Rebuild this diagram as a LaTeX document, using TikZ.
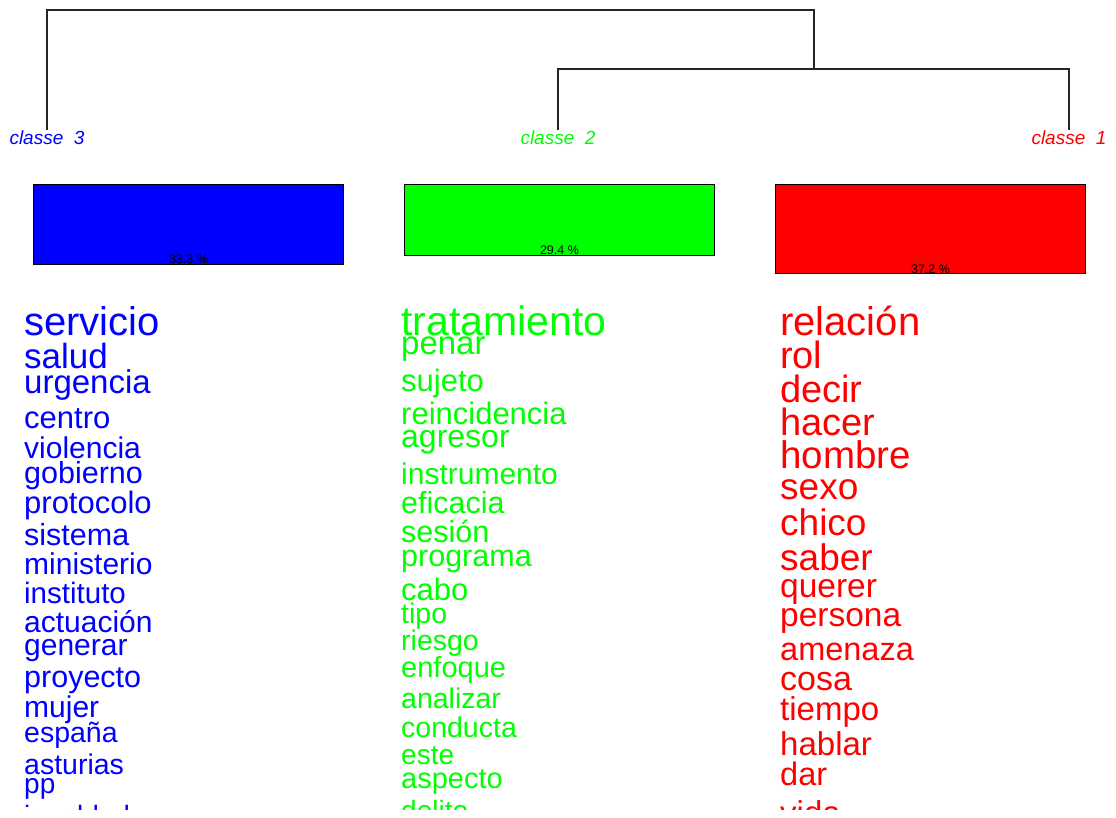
\documentclass[tikz,border=0pt]{standalone}
\usepackage{fontspec}
\setmainfont{Liberation Sans}
\usetikzlibrary{positioning}

\begin{document}
\begin{tikzpicture}[x=1pt,y=-1pt,
	tree/.style={line width=1.1pt,color=black!85},
	classe/.style={font=\fontsize{19}{19}\selectfont\itshape,inner sep=0pt,anchor=base},
	bar/.style={draw=black,line width=1pt,anchor=north west,minimum width=310pt,inner sep=0pt},
	pct/.style={font=\fontsize{12.5}{12.5}\selectfont,inner sep=0pt,anchor=base,text=black},
	word/.style={inner sep=0pt,anchor=base west}]

\useasboundingbox (0,0) rectangle (1116,817);

\def\h{2.4}

% class labels and tree
\node[classe,text=blue] (k3) at (47,144) {classe\ \ 3};
\node[classe,text=green] (k2) at (558,144) {classe\ \ 2};
\node[classe,text=red] (k1) at (1069,144) {classe\ \ 1};

\coordinate (m21) at (814,69);
\coordinate (top) at (431,10);
\draw[tree] (k2.north) |- (m21) -| (k1.north);
\draw[tree] (k3.north) |- (top) -| (m21);

% bars
\foreach \k/\x/\p/\c in {3/33/33.3/blue,2/404/29.4/green,1/775/37.2/red}{
	\node[bar,fill=\c,minimum height=\p*\h] (b\k) at (\x,184) {};
	\node[pct] (p\k) at ([yshift=1pt]b\k.south) {\p\ \%};
}

% words
\begin{scope}
\clip (0,0) rectangle (1116,809);
\foreach[count=\i] \w/\f/\y in {servicio/40/335,salud/35/368,urgencia/33/393,centro/31/428,violencia/30/458,gobierno/30.5/483,protocolo/31/513,sistema/30.5/545,ministerio/30/574,instituto/29.5/603,actuación/30/632,generar/30/655,proyecto/30.5/687,mujer/30/717,españa/28.5/742,asturias/28.5/774,pp/28/793,igualdad/28/825}
	\node[word,text=blue,font=\fontsize{\f}{\f}\selectfont] (w3-\i) at (24,\y) {\w};

\foreach[count=\i] \w/\f/\y in {tratamiento/41/335,penar/33/354,sujeto/31/391,reincidencia/31/424,agresor/32/447,instrumento/30/484,eficacia/30.5/513,sesión/30.5/542,programa/30.5/566,cabo/31/600,tipo/28.5/623,riesgo/28.5/650,enfoque/29/677,analizar/28.5/708,conducta/28.5/737,este/28/764,aspecto/29/788,delito/28/820}
	\node[word,text=green,font=\fontsize{\f}{\f}\selectfont] (w2-\i) at (401,\y) {\w};

\foreach[count=\i] \w/\f/\y in {relación/40/335,rol/38/368,decir/38/402,hacer/38/435,hombre/38.5/468,sexo/37/499,chico/37/535,saber/37/570,querer/33.5/597,persona/33.5/626,amenaza/32.5/660,cosa/34/690,tiempo/33/720,hablar/33/755,dar/32.5/785,vida/33/824}
	\node[word,text=red,font=\fontsize{\f}{\f}\selectfont] (w1-\i) at (780,\y) {\w};
\end{scope}
\end{tikzpicture}
\end{document}
